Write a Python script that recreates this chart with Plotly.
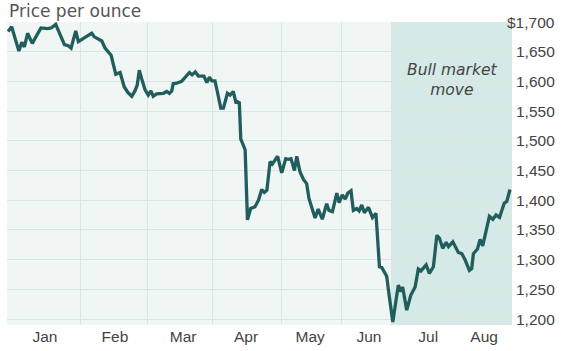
import plotly.graph_objects as go

# trading-session index (x) and gold price per ounce (y)
session = [0.4, 1.6, 4.1, 5.1, 6.0, 7.1, 8.7, 11.7, 14.0, 15.2, 16.8, 17.9, 19.8, 21.1, 22.1,
           23.7, 24.6, 26.9, 28.3, 29.2, 30.1, 31.3, 32.7, 33.8, 35.2, 35.9, 37.5, 39.0, 40.4,
           41.6, 43.0, 44.1, 44.9, 45.6, 46.4, 47.6, 48.7, 49.6, 50.4, 51.6, 53.9, 55.1, 56.0,
           56.8, 57.3, 58.5, 60.2, 61.7, 62.9, 63.8, 64.9, 66.0, 67.9, 68.9, 69.8, 70.6, 71.7,
           72.5, 73.7, 74.6, 76.0, 76.9, 78.0, 79.0, 79.4, 80.1, 80.6, 82.1, 82.9, 84.0, 85.5,
           86.7, 87.8, 88.7, 89.6, 90.7, 91.5, 93.3, 94.7, 96.1, 97.0, 97.9, 99.1, 99.9, 101.0,
           102.2, 103.3, 104.1, 105.3, 106.2, 107.3, 108.7, 110.2, 111.0, 112.2, 113.7, 114.5,
           115.6, 116.6, 117.5, 118.6, 119.4, 120.6, 121.4, 122.3, 123.2, 124.6, 126.0, 127.2,
           128.4, 129.2, 130.9, 131.8, 133.0, 133.8, 134.9, 135.8, 136.4, 137.8, 139.2, 140.7,
           141.8, 142.7, 144.5, 145.6, 147.0, 148.2, 149.1, 150.2, 151.4, 152.2, 153.7, 155.6,
           156.8, 157.9, 159.4, 160.2, 160.8, 162.2, 163.1, 164.0, 166.3, 167.5, 168.6, 169.8,
           171.4, 172.3, 173.4]
price = [1684, 1692, 1651, 1666, 1658, 1681, 1664, 1690, 1689, 1690, 1696, 1684, 1662, 1660, 1656,
         1685, 1667, 1674, 1678, 1681, 1675, 1671, 1668, 1656, 1647, 1644, 1612, 1615, 1591,
         1582, 1575, 1584, 1594, 1619, 1605, 1586, 1577, 1584, 1575, 1579, 1580, 1583, 1580,
         1584, 1596, 1597, 1600, 1608, 1615, 1611, 1616, 1609, 1609, 1598, 1607, 1601, 1601,
         1583, 1555, 1555, 1580, 1577, 1583, 1563, 1566, 1564, 1503, 1485, 1367, 1386, 1389,
         1400, 1418, 1413, 1417, 1465, 1461, 1474, 1446, 1470, 1469, 1470, 1450, 1474, 1448,
         1435, 1428, 1403, 1383, 1370, 1385, 1368, 1394, 1383, 1381, 1412, 1396,
         1409, 1402, 1412, 1416, 1383, 1386, 1382, 1392, 1379, 1388, 1371, 1378,
         1288, 1287, 1272, 1238, 1195, 1221, 1257, 1246, 1254, 1215, 1240, 1254,
         1284, 1281, 1291, 1277, 1288, 1341, 1336, 1319, 1329, 1322, 1330, 1312,
         1310, 1300, 1282, 1285, 1310, 1318, 1334, 1323, 1373, 1368, 1375, 1371,
         1395, 1398, 1418]

months = ["Jan", "Feb", "Mar", "Apr", "May", "Jun", "Jul", "Aug"]
month_centers = [13.1, 37.2, 60.7, 82.4, 104.5, 124.8, 145.2, 164.5]
month_bounds = [25.5, 48.3, 71.0, 94.5, 115.2, 132.4, 155.2]
x_end = 174.1
bull_start = 132.4

y_ticks = [1200, 1250, 1300, 1350, 1400, 1450, 1500, 1550, 1600, 1650, 1700]
y_labels = ["1,200", "1,250", "1,300", "1,350", "1,400", "1,450", "1,500", "1,550",
            "1,600", "1,650", "$1,700"]

LINE = "#225d5d"
GRID = "#d9e6e2"
NARROW = "Liberation Sans Narrow, Arial Narrow, Liberation Sans, Arial, sans-serif"

fig = go.Figure()
fig.add_trace(go.Scatter(x=session, y=price, mode="lines",
                         line=dict(color=LINE, width=3.3), hoverinfo="skip"))

fig.add_shape(type="rect", xref="x", yref="paper", x0=bull_start, x1=x_end, y0=0, y1=1,
              fillcolor="#d5e9e6", line=dict(width=0), layer="below")

annotations = []
for v, t in zip(y_ticks, y_labels):
    annotations.append(dict(xref="paper", yref="y", x=1.089, y=v, text=t, showarrow=False,
                            xanchor="right", yanchor="middle",
                            font=dict(family=NARROW, size=15.5, color="#444")))
annotations.append(dict(xref="x", yref="paper", x=(bull_start + x_end) / 2, y=0.81,
                        text="Bull market<br>move", showarrow=False,
                        xanchor="center", yanchor="middle",
                        font=dict(family="DejaVu Sans", size=15.5, color="#444", style="italic")))
annotations.append(dict(xref="paper", yref="paper", x=0, y=1, yshift=23,
                        text="Price per ounce", showarrow=False, xanchor="left", yanchor="top",
                        font=dict(family="DejaVu Sans", size=17, color="#555")))

fig.update_layout(
    width=564, height=351,
    margin=dict(l=7, r=52, t=22, b=26),
    paper_bgcolor="white", plot_bgcolor="#eff6f3",
    showlegend=False,
    annotations=annotations,
    xaxis=dict(range=[0, x_end], tickmode="array", tickvals=month_centers, ticktext=months,
               showgrid=False, zeroline=False, ticks="", showline=False,
               tickfont=dict(family=NARROW, size=15.5, color="#444"),
               minor=dict(tickmode="array", tickvals=month_bounds, showgrid=True,
                          gridcolor=GRID, gridwidth=1, ticks="")),
    yaxis=dict(range=[1190, 1700], tickmode="array", tickvals=y_ticks, showticklabels=False,
               showgrid=True, gridcolor=GRID, gridwidth=1, zeroline=False, ticks="",
               showline=False),
)

fig.write_html("out.html")
